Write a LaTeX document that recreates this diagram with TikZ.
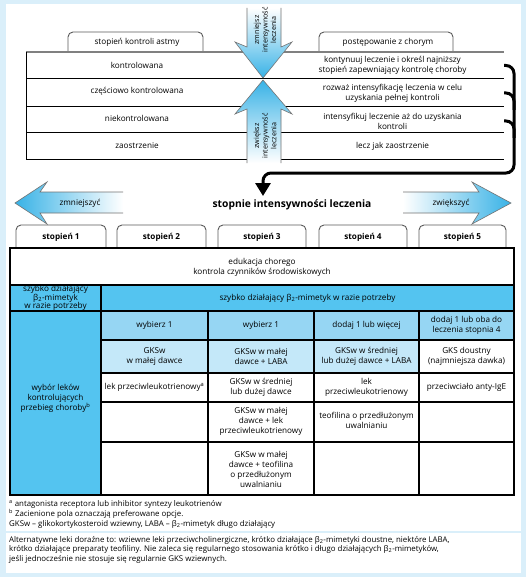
\documentclass[tikz,border=0pt]{standalone}
\usepackage{fontspec}
\setmainfont{Open Sans}
\usetikzlibrary{arrows.meta}
\definecolor{frameblue}{RGB}{218,239,250}
\definecolor{cellblue}{RGB}{84,196,240}
\definecolor{midblue}{RGB}{150,214,243}
\definecolor{paleblue}{RGB}{196,232,249}
\definecolor{arrowblue}{RGB}{56,178,230}
\definecolor{tabgray}{RGB}{90,90,90}
\begin{document}
\begin{tikzpicture}[x=1bp,y=-1bp,
  every node/.style={inner sep=0pt, align=center, font=\fontsize{8.2}{10}\selectfont},
  boldtxt/.style={font=\fontsize{8.2}{10}\selectfont\bfseries},
  headtxt/.style={font=\fontsize{10.3}{12}\selectfont\bfseries},
  rottxt/.style={rotate=90, font=\fontsize{7.2}{8.6}\selectfont},
  tighttxt/.style={font=\fontsize{8.2}{8.6}\selectfont},
  rowtxt/.style={minimum width=223bp},
  foot/.style={anchor=west, align=left, font=\fontsize{7.9}{9.5}\selectfont},
  tabline/.style={draw=tabgray, line width=0.9bp, rounded corners=5bp},
  gridline/.style={line width=1.1bp},
  thinrow/.style={line width=0.9bp},
  conn/.style={line width=3bp, rounded corners=8bp},
  outline/.style={draw=black!55, line width=0.6bp},
]
\useasboundingbox (0,0) rectangle (526,577);
% frame
\fill[frameblue] (0,0) rectangle (526,577);
\fill[white] (6,4) rectangle (521,573);
\draw[frameblue, line width=1.2bp] (6,532) -- (521,532);

% ---------- top part ----------
\draw[tabline] (68,52) -- (68,32) -- (203,32) -- (203,52);
\node (tabL) at (137,42) {stopień kontroli astmy};
\draw[tabline] (319,52) -- (319,32) -- (453,32) -- (453,52);
\node (tabR) at (388,42) {postępowanie z chorym};

\draw[black!50, line width=2bp] (26,52) -- (247,52) (281,52) -- (504,52);
\draw[thinrow] (26,52) -- (26,159);
\draw[thinrow] (26,78) -- (504,78);
\foreach \yy in {106,132,159} {
  \draw[thinrow] (26,\yy) -- (247,\yy) (281,\yy) -- (504,\yy);
}

\node (l1) at (137,65) {kontrolowana};
\node (l2) at (137,91.5) {częściowo kontrolowana};
\node (l3) at (137,118.5) {niekontrolowana};
\node (l4) at (137,146) {zaostrzenie};

\node[rowtxt] (r1) at (392.5,65.5) {kontynuuj leczenie i określ najniższy\\stopień zapewniający kontrolę choroby};
\node[rowtxt] (r2) at (392.5,93) {rozważ intensyfikację leczenia w celu\\uzyskania pełnej kontroli};
\node[rowtxt] (r3) at (392.5,121) {intensyfikuj leczenie aż do uzyskania\\kontroli};
\node[rowtxt] (r4) at (392.5,146) {lecz jak zaostrzenie};

% vertical arrows
\shade[top color=white, bottom color=arrowblue]
  (247,8) -- (247,47) -- (235,42) -- (263,78) -- (292,42) -- (281,47) -- (281,8) -- cycle;
\draw[outline] (247,8) -- (247,47) -- (235,42) -- (263,78) -- (292,42) -- (281,47) -- (281,8);
\shade[top color=arrowblue, bottom color=white]
  (247,163) -- (247,109) -- (235,114) -- (263,80) -- (292,114) -- (281,109) -- (281,163) -- cycle;
\draw[outline] (247,163) -- (247,109) -- (235,114) -- (263,80) -- (292,114) -- (281,109) -- (281,163);
\node[rottxt] (dec) at (265,30) {zmniejsz\\intensywność\\leczenia};
\node[rottxt] (inc) at (265,136) {zwiększ\\intensywność\\leczenia};

% connector
\coordinate (tip) at (263,196);
\draw[conn, -{Triangle[length=13bp,width=15bp]}] (r1.east) -- (514,65.5) -- (514,173) -- (263,173) -- (tip);
\draw[conn] (r2.east) -- (514,93) -- (514,110);
\draw[conn] (r3.east) -- (514,121) -- (514,138);

% horizontal arrows
\shade[left color=arrowblue, right color=white]
  (123,192) -- (40,192) -- (47,182) -- (15,203) -- (47,224) -- (40,213) -- (123,213) -- cycle;
\draw[outline] (123,192) -- (40,192) -- (47,182) -- (15,203) -- (47,224) -- (40,213) -- (123,213);
\node (less) at (80,203) {zmniejszyć};
\shade[left color=white, right color=arrowblue]
  (403,192) -- (479,192) -- (472,182) -- (511,203) -- (472,224) -- (479,213) -- (403,213) -- cycle;
\draw[outline] (403,192) -- (479,192) -- (472,182) -- (511,203) -- (472,224) -- (479,213) -- (403,213);
\node (more) at (451,203) {zwiększyć};

\node[headtxt] (title) at (292,205) {stopnie intensywności leczenia};

% ---------- steps table ----------
\foreach \xa/\xb/\n in {16/106/1, 117/206/2, 218/306/3, 319/407/4, 419/506/5} {
  \draw[tabline] (\xa,248) -- (\xa,225) -- (\xb,225) -- (\xb,248);
  \node[boldtxt] (s\n) at ({(\xa+\xb)/2},237) {stopień \n};
}

\fill[cellblue] (10,285) rectangle (514,311);
\fill[cellblue] (10,311) rectangle (101,495);
\fill[midblue] (101,311) rectangle (514,340);
\fill[paleblue] (101,340) rectangle (419,373);

\draw[gridline] (10,248) rectangle (514,495);
\draw[gridline] (10,285) -- (514,285) (10,311) -- (514,311);
\foreach \yy in {340,373,402,442} { \draw[gridline] (101,\yy) -- (514,\yy); }
\draw[gridline] (101,285) -- (101,495);
\foreach \xx in {208,314,419} { \draw[gridline] (\xx,311) -- (\xx,495); }

\node (edu) at (262,267) {edukacja chorego\\kontrola czynników środowiskowych};
\node[tighttxt] (saba1) at (55.5,298) {szybko działający\\β\textsubscript{2}-mimetyk\\w razie potrzeby};
\node (saba2) at (307.5,298) {szybko działający β\textsubscript{2}-mimetyk w razie potrzeby};
\node (ctrl) at (55.5,398) {wybór leków\\kontrolujących\\przebieg choroby\textsuperscript{b}};

\node (a2) at (154.5,325.5) {wybierz 1};
\node (a3) at (261,325.5) {wybierz 1};
\node (a4) at (366.5,325.5) {dodaj 1 lub więcej};
\node (a5) at (466.5,325.5) {dodaj 1 lub oba do\\leczenia stopnia 4};

\node (b2) at (154.5,356.5) {GKSw\\w małej dawce};
\node (b3) at (261,356.5) {GKSw w małej\\dawce + LABA};
\node (b4) at (366.5,356.5) {GKSw w średniej\\lub dużej dawce + LABA};
\node (b5) at (466.5,356.5) {GKS doustny\\(najmniejsza dawka)};

\node (c2) at (154.5,387.5) {lek przeciwleukotrienowy\textsuperscript{a}};
\node (c3) at (261,387.5) {GKSw w średniej\\lub dużej dawce};
\node (c4) at (366.5,387.5) {lek\\przeciwleukotrienowy};
\node (c5) at (466.5,387.5) {przeciwciało anty-IgE};

\node (d3) at (261,421.5) {GKSw w małej\\dawce + lek\\przeciwleukotrienowy};
\node (d4) at (366.5,420) {teofilina o przedłużonym\\uwalnianiu};

\node (e3) at (261,469) {GKSw w małej\\dawce + teofilina\\o przedłużonym\\uwalnianiu};

% ---------- footnotes ----------
\node[foot] (fa) at (9,504) {\textsuperscript{a} antagonista receptora lub inhibitor syntezy leukotrienów};
\node[foot] (fb) at (9,514) {\textsuperscript{b} Zacienione pola oznaczają preferowane opcje.};
\node[foot] (fc) at (9,524) {GKSw – glikokortykosteroid wziewny, LABA – β\textsubscript{2}-mimetyk długo działający};
\node[foot, anchor=north west] (para) at (9,536) {Alternatywne leki doraźne to: wziewne leki przeciwcholinergiczne, krótko działające β\textsubscript{2}-mimetyki doustne, niektóre LABA,\\krótko działające preparaty teofiliny. Nie zaleca się regularnego stosowania krótko i długo działających β\textsubscript{2}-mimetyków,\\jeśli jednocześnie nie stosuje się regularnie GKS wziewnych.};
\end{tikzpicture}
\end{document}
